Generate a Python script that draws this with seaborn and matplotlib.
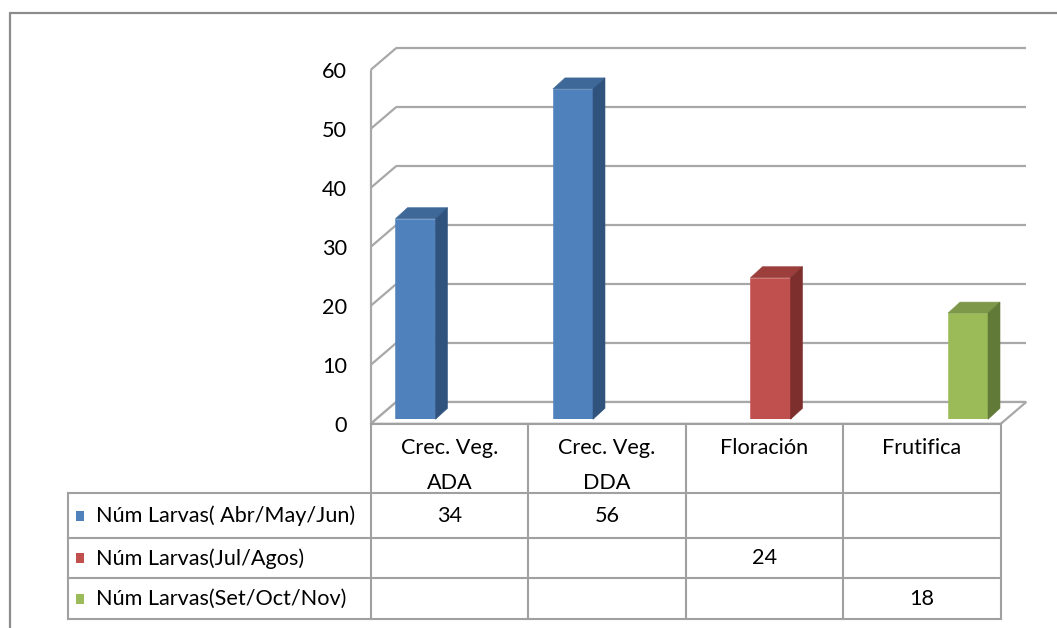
import numpy as np
import pandas as pd
import matplotlib
matplotlib.use("Agg")
import matplotlib.pyplot as plt
from matplotlib.patches import Polygon, Rectangle
from matplotlib.lines import Line2D
from matplotlib.transforms import ScaledTranslation
from matplotlib.colors import to_hex
import seaborn as sns

# ---- data -------------------------------------------------------------
categories = ["Crec. Veg.\nADA", "Crec. Veg.\nDDA", "Floración", "Frutifica"]
series_names = ["Núm Larvas( Abr/May/Jun)", "Núm Larvas(Jul/Agos)", "Núm Larvas(Set/Oct/Nov)"]
larvas_abr_may_jun = [34, 56, np.nan, np.nan]
larvas_jul_agos = [np.nan, np.nan, 24, np.nan]
larvas_set_oct_nov = [np.nan, np.nan, np.nan, 18]
y_ticks = [0, 10, 20, 30, 40, 50, 60]

# ---- style ------------------------------------------------------------
front_colors = ["#4F81BD", "#C0504D", "#9BBB59"]
top_colors = ["#3D6898", "#9B3E3C", "#7D9848"]
side_colors = ["#30537E", "#7D2F2D", "#627A37"]
GRID = "#A8A8A8"
TABLE = "#A0A0A0"
FS = 15.6

W, H = 1057, 628
sns.set_theme(style="white")
plt.rcParams["font.family"] = ["Lato", "DejaVu Sans"]

fig = plt.figure(figsize=(W / 100, H / 100), dpi=100)
fig.patch.set_facecolor("white")

# axes in the plane of the bar fronts (pixel box of that plane)
AX_L, AX_R, AX_T, AX_B = 376.75, 1006.75, 65.3, 419.3
ax = fig.add_axes([AX_L / W, 1 - AX_B / H, (AX_R - AX_L) / W, (AX_B - AX_T) / H])
ax.set_facecolor("none")

values = [larvas_abr_may_jun, larvas_jul_agos, larvas_set_oct_nov]
df = pd.DataFrame({
    "Etapa": np.tile(categories, len(series_names)),
    "Serie": np.repeat(series_names, len(categories)),
    "Larvas": np.concatenate(values),
})
sns.barplot(data=df, x="Etapa", y="Larvas", hue="Serie", order=categories,
            hue_order=series_names, palette=front_colors, saturation=1,
            width=0.762, errorbar=None, legend=False, linewidth=0, ax=ax)

ax.set_xlim(-0.5, 3.5)
ax.set_ylim(0, 60)
ax.set_xlabel("")
ax.set_ylabel("")
ax.set_xticks([])
for s in ax.spines.values():
    s.set_visible(False)

bars = [p for p in ax.patches
        if isinstance(p, Rectangle) and np.isfinite(p.get_height()) and p.get_height() > 0]

# pixel offsets of the other depth planes relative to the bar-front plane
BACK = (19.5, 17.3)
FRONT = (-6.0, -4.5)
BAR_DEPTH = (12.0, 11.0)


def shift(x, y, dx, dy):
    px, py = ax.transData.transform((x, y))
    return tuple(ax.transData.inverted().transform((px + dx, py + dy)))


x0, x1 = ax.get_xlim()
grid_kw = dict(color=GRID, lw=1.6, clip_on=False, zorder=0.5, solid_capstyle="butt")
for v in y_ticks:
    bl, br, fl = shift(x0, v, *BACK), shift(x1, v, *BACK), shift(x0, v, *FRONT)
    ax.add_line(Line2D([bl[0], br[0]], [bl[1], br[1]], **grid_kw))
    ax.add_line(Line2D([fl[0], bl[0]], [fl[1], bl[1]], **grid_kw))
f_lo, f_hi = shift(x0, y_ticks[0], *FRONT), shift(x0, y_ticks[-1], *FRONT)
ax.add_line(Line2D([f_lo[0], f_hi[0]], [f_lo[1], f_hi[1]], **grid_kw))

floor = [shift(x0, 0, *FRONT), shift(x1, 0, *FRONT), shift(x1, 0, *BACK), shift(x0, 0, *BACK)]
ax.add_patch(Polygon(floor, closed=True, facecolor="white", edgecolor=GRID, lw=1.6,
                     clip_on=False, zorder=0.6))

# top and side faces of every column
hex_front = [c.lower() for c in front_colors]
for p in bars:
    k = hex_front.index(to_hex(p.get_facecolor()).lower())
    p.set_edgecolor(front_colors[k])
    p.set_linewidth(0.4)
    xl, w, h = p.get_x(), p.get_width(), p.get_height()
    xr = xl + w
    top = [(xl, h), (xr, h), shift(xr, h, *BAR_DEPTH), shift(xl, h, *BAR_DEPTH)]
    side = [(xr, 0), (xr, h), shift(xr, h, *BAR_DEPTH), shift(xr, 0, *BAR_DEPTH)]
    ax.add_patch(Polygon(top, closed=True, facecolor=top_colors[k], edgecolor=top_colors[k],
                         lw=0.4, clip_on=False, zorder=1))
    ax.add_patch(Polygon(side, closed=True, facecolor=side_colors[k], edgecolor=side_colors[k],
                         lw=0.4, clip_on=False, zorder=1))

# value axis labels, placed on the front plane
ax.set_yticks(y_ticks)
ax.set_yticklabels([str(v) for v in y_ticks])
ax.tick_params(axis="y", length=0, pad=(AX_L - 347) * 0.72, labelsize=FS, labelcolor="black")
for lab in ax.get_yticklabels():
    lab.set_transform(lab.get_transform() + ScaledTranslation(0, FRONT[1] / 100, fig.dpi_scale_trans))

# ---- data table underneath --------------------------------------------
ov = fig.add_axes([0, 0, 1, 1])
ov.set_xlim(0, W)
ov.set_ylim(H, 0)
ov.axis("off")
ov.set_facecolor("none")

cols = [ax.transData.transform((x0 + i, 0))[0] + FRONT[0] for i in range(len(categories) + 1)]
table_top = H - ax.transData.transform((0, 0))[1] - FRONT[1]
rows = [492.7, 538.3, 578.3, 619.3]
legend_left = 68.3

line_kw = dict(color=TABLE, lw=1.5, solid_capstyle="projecting")
ov.plot([cols[0], cols[-1]], [table_top, table_top], **line_kw)
for r in rows:
    ov.plot([legend_left, cols[-1]], [r, r], **line_kw)
for c in cols:
    ov.plot([c, c], [table_top, rows[-1]], **line_kw)
ov.plot([legend_left, legend_left], [rows[0], rows[-1]], **line_kw)

for j, cat in enumerate(categories):
    ov.text((cols[j] + cols[j + 1]) / 2, 438.5, cat, ha="center", va="top",
            fontsize=FS, color="black", linespacing=1.9)

for i, name in enumerate(series_names):
    yc = (rows[i] + rows[i + 1]) / 2
    ov.add_patch(Rectangle((76, yc - 5), 7.5, 10, facecolor=front_colors[i], edgecolor="none"))
    ov.text(96, yc, name, ha="left", va="center", fontsize=FS, color="black")
    for j, v in enumerate(values[i]):
        if np.isfinite(v):
            ov.text((cols[j] + cols[j + 1]) / 2, yc, f"{v:g}", ha="center", va="center",
                    fontsize=FS, color="black")

# chart frame
frame_kw = dict(color="#8C8C8C", lw=1.6, clip_on=False)
ov.plot([10, 10], [H + 5, 13.3], **frame_kw)
ov.plot([10, W + 5], [13.3, 13.3], **frame_kw)

fig.savefig("out.png", dpi=100, facecolor="white")
